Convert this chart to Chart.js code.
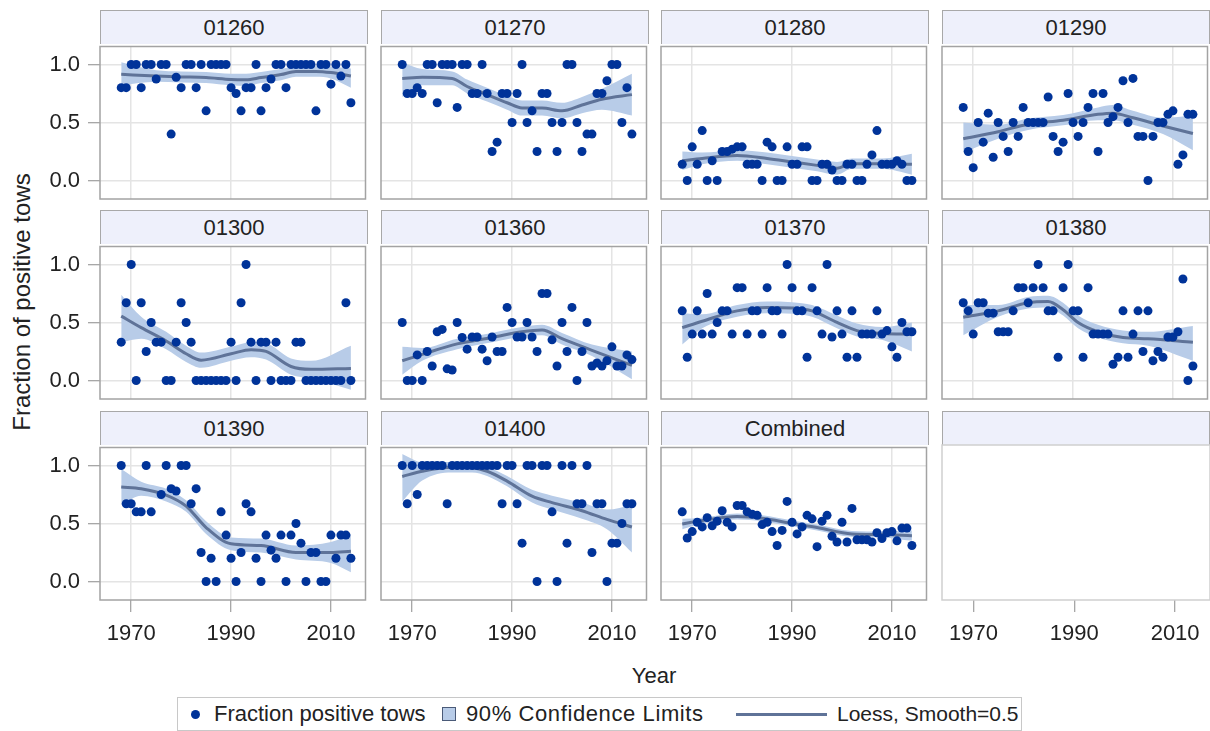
<!DOCTYPE html>
<html lang="en">
<head>
<meta charset="UTF-8">
<title>Fraction of positive tows</title>
<script src="https://cdn.jsdelivr.net/npm/chart.js"></script>
<style>
  html, body { margin: 0; padding: 0; background: #fff; }
  #page { position: relative; width: 1210px; height: 731px; overflow: hidden;
          font-family: "Liberation Sans", Arial, sans-serif; color: #222; }
  .hdr { position: absolute; box-sizing: border-box; height: 34px;
         background: #eef0fb; border: 1px solid #a8a8a8; border-bottom: none;
         text-align: center; font-size: 22px; line-height: 33px; }
  .panel { position: absolute; }
  #ytitle { position: absolute; left: -188px; top: 289px; width: 420px; height: 26px;
            line-height: 26px; text-align: center; font-size: 24px; transform: rotate(-90deg); }
  #xtitle { position: absolute; left: 554px; top: 663px; width: 200px; line-height: 26px;
            text-align: center; font-size: 22px; }
  #legend { position: absolute; left: 177px; top: 697px; width: 845px; height: 34px;
            box-sizing: border-box; border: 1px solid #c8c8c8; font-size: 22px; }
  #legend span { position: absolute; }
  #legend .lt { top: 0; line-height: 32px; white-space: nowrap; }
  #legend .dot { left: 13px; top: 12px; width: 9px; height: 9px; border-radius: 50%; background: #003399; }
  #legend .sq { left: 264px; top: 9px; width: 14px; height: 14px; box-sizing: border-box;
                background: #b8cce8; border: 1px solid #4a5a78; }
  #legend .ln { left: 558px; top: 15px; width: 91px; height: 3px; background: #5f7398; }
</style>
</head>
<body>
<div id="page">
  <div id="ytitle">Fraction of positive tows</div>
  <div id="xtitle">Year</div>
  <div id="legend">
    <span class="dot"></span><span class="lt" style="left:36px">Fraction positive tows</span>
    <span class="sq"></span><span class="lt" style="left:288px; letter-spacing:0.6px">90% Confidence Limits</span>
    <span class="ln"></span><span class="lt" style="left:659px; font-size:21px">Loess, Smooth=0.5</span>
  </div>
</div>
<script>
// ---- data ----
const panelNames = ['01260', '01270', '01280', '01290', '01300', '01360', '01370', '01380', '01390', '01400', 'Combined'];

const years = [1968, 1969, 1970, 1971, 1972, 1973, 1974, 1975, 1976, 1977,
               1978, 1979, 1980, 1981, 1982, 1983, 1984, 1985, 1986, 1987,
               1988, 1989, 1990, 1991, 1992, 1993, 1994, 1995, 1996, 1997,
               1998, 1999, 2000, 2001, 2002, 2003, 2004, 2005, 2006, 2007,
               2008, 2009, 2010, 2011, 2012, 2013, 2014];

// fraction of positive tows, one value per year above (null = no survey)
const fraction = [
  [0.8, 0.8, 1, 1, 0.8, 1, 1, 0.875, 1, 1, 0.4, 0.89, 0.8, 1, 1, 0.8, 1, 0.6, 1, 1, 1, 1, 0.8, 0.75, 0.6, 0.8, 0.8, 1, 0.6, 0.8, 0.875, 1, 1, 0.8, 1, 1, 1, 1, 1, 0.6, 1, 1, 0.83, 1, 0.9, 1, 0.67],
  [1, 0.75, 0.75, 0.8, 0.75, 1, 1, 0.67, 1, 1, 1, 0.63, 1, 1, 0.75, 0.75, 1, 0.75, 0.25, 0.33, 0.75, 0.75, 0.5, 0.75, 1, 0.5, 0.6, 0.25, 0.75, 0.75, 0.5, 0.25, 0.5, 1, 1, 0.5, 0.25, 0.4, 0.4, 0.75, 0.75, 0.86, 1, 1, 0.5, 0.8, 0.4],
  [0.14, 0, 0.29, 0.14, 0.43, 0, 0.17, 0, 0.25, 0.25, 0.27, 0.29, 0.29, 0.14, 0.14, 0.14, 0, 0.33, 0.29, 0, 0, 0.29, 0.14, 0.14, 0.29, 0.29, 0, 0, 0.14, 0.14, 0.09, 0, 0, 0.14, 0.14, 0, 0, 0.14, 0.22, 0.43, 0.14, 0.14, 0.14, 0.17, 0.14, 0, 0],
  [0.63, 0.25, 0.11, 0.5, 0.33, 0.58, 0.2, 0.5, 0.38, 0.25, 0.5, 0.38, 0.63, 0.5, 0.5, 0.5, 0.5, 0.72, 0.38, 0.25, 0.33, 0.75, 0.5, 0.38, 0.5, 0.63, 0.75, 0.25, 0.75, 0.5, 0.55, 0.63, 0.86, 0.5, 0.88, 0.38, 0.38, 0, 0.38, 0.5, 0.5, 0.57, 0.6, 0.14, 0.22, 0.57, 0.57],
  [0.33, 0.67, 1, 0, 0.67, 0.25, 0.5, 0.33, 0.33, 0, 0, 0.33, 0.67, 0.5, 0.33, 0, 0, 0, 0, 0, 0, 0, 0.33, 0, 0.67, 1, 0.33, 0, 0.33, 0.33, 0, 0.33, 0, 0, 0, 0.33, 0.33, 0, 0, 0, 0, 0, 0, 0, 0, 0.67, 0],
  [0.5, 0, 0, 0.22, 0, 0.25, 0.125, 0.42, 0.44, 0.1, 0.09, 0.5, 0.37, 0.27, 0.375, 0.375, 0.27, 0.17, 0.375, 0.25, 0.25, 0.63, 0.5, 0.375, 0.375, 0.5, 0.375, 0.25, 0.75, 0.75, 0.35, 0.125, 0.5, 0.25, 0.63, 0, 0.25, 0.5, 0.125, 0.15, 0.125, 0.17, 0.29, 0.125, 0.125, 0.22, 0.18],
  [0.6, 0.2, 0.4, 0.6, 0.4, 0.75, 0.4, 0.5, 0.6, 0.6, 0.4, 0.8, 0.8, 0.4, 0.6, 0.6, 0.4, 0.8, 0.6, 0.6, 0.4, 1, 0.8, 0.6, 0.6, 0.2, 0.8, 0.6, 0.4, 1, 0.375, 0.6, 0.4, 0.2, 0.6, 0.2, 0.4, 0.4, 0.4, 0.6, 0.4, 0.43, 0.29, 0.2, 0.5, 0.42, 0.42],
  [0.67, 0.6, 0.4, 0.67, 0.67, 0.58, 0.58, 0.42, 0.42, 0.42, 0.6, 0.8, 0.8, 0.67, 0.8, 1, 0.8, 0.6, 0.6, 0.2, 0.8, 1, 0.6, 0.6, 0.2, 0.8, 0.4, 0.4, 0.4, 0.4, 0.14, 0.2, 0.6, 0.2, 0.4, 0.6, 0.25, 0.6, 0.17, 0.25, 0.2, 0.375, 0.375, 0.42, 0.875, 0, 0.125],
  [1, 0.67, 0.67, 0.6, 0.6, 1, 0.6, null, 0.75, 1, 0.8, 0.78, 1, 1, 0.67, 0.8, 0.25, 0, 0.2, 0, 0.6, 0.4, 0.2, 0, 0.25, 0.67, 0.6, 0.2, 0, 0.4, 0.27, 0.2, 0.4, 0, 0.4, 0.5, 0.33, 0, 0.25, 0.25, 0, 0, 0.4, 0.2, 0.4, 0.4, 0.2],
  [1, 0.67, 1, 0.75, 1, 1, 1, 1, 1, 0.67, 1, 1, 1, 1, 1, 1, 1, 1, 1, 1, 0.67, 1, 1, 0.67, 0.33, 1, 1, 0, 1, 1, 0.6, 0, 1, 0.33, 1, 0.67, 0.67, 1, 0.25, 0.67, 0.67, 0, 0.33, 0.33, 0.5, 0.67, 0.67],
  [0.6, 0.375, 0.43, 0.51, 0.47, 0.55, 0.48, 0.52, 0.61, 0.51, 0.47, 0.655, 0.655, 0.6, 0.58, 0.57, 0.49, 0.51, 0.43, 0.31, 0.44, 0.69, 0.51, 0.41, 0.47, 0.57, 0.54, 0.3, 0.52, 0.57, 0.39, 0.34, 0.51, 0.34, 0.63, 0.36, 0.36, 0.36, 0.34, 0.42, 0.37, 0.42, 0.43, 0.35, 0.46, 0.46, 0.31]
];

// loess fit and 90% limits, read at the bends of each curve
const fitYears = [
  [1968, 1975, 1980, 1985, 1990, 1993, 1996, 2000, 2003, 2007, 2010, 2014],
  [1968, 1972, 1978, 1981, 1985, 1989, 1992, 1996, 2000, 2004, 2008, 2014],
  [1968, 1972, 1979, 1985, 1990, 1995, 1999, 2002, 2008, 2014],
  [1968, 1975, 1981, 1988, 1995, 1998, 2002, 2008, 2014],
  [1968, 1972, 1977, 1981, 1984, 1990, 1994, 1997, 2002, 2006, 2014],
  [1968, 1972, 1979, 1986, 1992, 1996, 2000, 2006, 2014],
  [1968, 1972, 1979, 1985, 1990, 1994, 1999, 2003, 2008, 2014],
  [1968, 1975, 1981, 1985, 1988, 1991, 1995, 2000, 2005, 2014],
  [1968, 1972, 1977, 1981, 1985, 1990, 1996, 2003, 2010, 2014],
  [1968, 1972, 1978, 1982, 1985, 1989, 1994, 1998, 2004, 2009, 2014],
  [1968, 1972, 1979, 1984, 1990, 1995, 2002, 2008, 2014]
];
const fitValues = [
  [0.915, 0.90, 0.893, 0.887, 0.87, 0.868, 0.887, 0.913, 0.94, 0.94, 0.93, 0.90],
  [0.88, 0.89, 0.88, 0.81, 0.74, 0.67, 0.625, 0.625, 0.60, 0.65, 0.70, 0.74],
  [0.17, 0.19, 0.215, 0.19, 0.16, 0.13, 0.105, 0.145, 0.145, 0.14],
  [0.36, 0.42, 0.485, 0.52, 0.57, 0.58, 0.54, 0.47, 0.405],
  [0.555, 0.455, 0.34, 0.23, 0.175, 0.23, 0.265, 0.25, 0.12, 0.096, 0.104],
  [0.17, 0.225, 0.315, 0.37, 0.42, 0.435, 0.36, 0.26, 0.13],
  [0.455, 0.51, 0.60, 0.63, 0.625, 0.60, 0.50, 0.43, 0.405, 0.40],
  [0.545, 0.60, 0.67, 0.68, 0.61, 0.50, 0.42, 0.37, 0.36, 0.33],
  [0.815, 0.80, 0.745, 0.65, 0.465, 0.325, 0.31, 0.25, 0.25, 0.26],
  [0.905, 0.95, 0.985, 0.98, 0.95, 0.865, 0.735, 0.68, 0.61, 0.535, 0.47],
  [0.495, 0.525, 0.56, 0.545, 0.50, 0.465, 0.41, 0.405, 0.395]
];
const upperCL = [
  [1.02, 0.95, 0.94, 0.935, 0.92, 0.92, 0.935, 0.96, 0.985, 0.985, 0.98, 0.965],
  [1.02, 0.96, 0.94, 0.87, 0.80, 0.73, 0.69, 0.69, 0.67, 0.72, 0.79, 0.92],
  [0.25, 0.24, 0.26, 0.24, 0.21, 0.18, 0.16, 0.19, 0.19, 0.23],
  [0.50, 0.48, 0.535, 0.565, 0.63, 0.65, 0.60, 0.54, 0.56],
  [0.74, 0.55, 0.42, 0.30, 0.24, 0.29, 0.33, 0.32, 0.19, 0.17, 0.30],
  [0.29, 0.28, 0.36, 0.41, 0.46, 0.48, 0.41, 0.31, 0.25],
  [0.58, 0.57, 0.65, 0.68, 0.675, 0.65, 0.56, 0.49, 0.46, 0.50],
  [0.65, 0.65, 0.72, 0.73, 0.67, 0.56, 0.48, 0.43, 0.42, 0.47],
  [0.97, 0.86, 0.80, 0.70, 0.52, 0.38, 0.37, 0.31, 0.34, 0.41],
  [1.10, 1.03, 1.03, 1.02, 0.99, 0.91, 0.79, 0.74, 0.68, 0.62, 0.66],
  [0.54, 0.55, 0.585, 0.57, 0.525, 0.49, 0.435, 0.43, 0.44]
];
const lowerCL = [
  [0.82, 0.85, 0.845, 0.84, 0.82, 0.815, 0.84, 0.865, 0.895, 0.895, 0.88, 0.80],
  [0.72, 0.82, 0.82, 0.75, 0.68, 0.61, 0.56, 0.56, 0.535, 0.58, 0.61, 0.56],
  [0.09, 0.14, 0.17, 0.14, 0.11, 0.08, 0.05, 0.10, 0.10, 0.05],
  [0.24, 0.36, 0.435, 0.475, 0.52, 0.52, 0.48, 0.40, 0.26],
  [0.33, 0.36, 0.27, 0.16, 0.11, 0.17, 0.20, 0.18, 0.05, 0.02, -0.08],
  [0.05, 0.17, 0.27, 0.33, 0.38, 0.39, 0.31, 0.21, 0.01],
  [0.31, 0.45, 0.55, 0.58, 0.575, 0.55, 0.45, 0.38, 0.35, 0.25],
  [0.39, 0.55, 0.62, 0.63, 0.56, 0.45, 0.37, 0.32, 0.30, 0.17],
  [0.66, 0.74, 0.69, 0.60, 0.41, 0.27, 0.25, 0.19, 0.16, 0.08],
  [0.69, 0.87, 0.94, 0.94, 0.91, 0.82, 0.68, 0.62, 0.54, 0.45, 0.25],
  [0.45, 0.50, 0.535, 0.52, 0.475, 0.44, 0.385, 0.38, 0.35]
];

const xTickValues = [1970, 1990, 2010];
const yTickValues = [0, 0.5, 1];

// ---- layout ----
const colLeft = [100, 381, 661, 942];
const rowTop = [44, 244, 445];
const plotW = 268, plotH = 155;
const axisW = 62, axisH = 50, pad = 2;
const xMin = 1963.75, xMax = 2016.92;
const yMin = -0.16, yMax = 1.155;

const dotColor = '#003399';
const bandColor = '#b8cce8';
const lineColor = '#5f7398';
const gridColor = '#e4e4e4';
const fontFamily = '"Liberation Sans", Arial, sans-serif';

Chart.defaults.font.family = fontFamily;
Chart.defaults.color = '#222';

const framePlugin = {
  id: 'frame',
  afterDraw(chart, args, opts) {
    const { ctx, chartArea: a } = chart;
    ctx.save();
    ctx.strokeStyle = opts.color;
    ctx.lineWidth = 1.5;
    ctx.strokeRect(a.left, a.top, a.width, a.height);
    ctx.restore();
  }
};

// keep every plot area the same size, whatever labels the axes carry
function fixX(s) { s.height = axisH; s.paddingLeft = 0; s.paddingRight = 0; s.paddingTop = 0; s.paddingBottom = 0; }
function fixY(s) { s.width = axisW; s.paddingLeft = 0; s.paddingRight = 0; s.paddingTop = 0; s.paddingBottom = 0; }

const page = document.getElementById('page');

for (let i = 0; i < 12; i++) {
  const col = i % 4, row = Math.floor(i / 4);
  const empty = i >= panelNames.length;
  const showY = col === 0, showX = row === 2;

  const hdr = document.createElement('div');
  hdr.className = 'hdr';
  hdr.style.left = colLeft[col] + 'px';
  hdr.style.top = (rowTop[row] - 34) + 'px';
  hdr.style.width = plotW + 'px';
  hdr.textContent = empty ? '' : panelNames[i];
  page.appendChild(hdr);

  const box = document.createElement('div');
  box.className = 'panel';
  box.style.left = (colLeft[col] - axisW) + 'px';
  box.style.top = (rowTop[row] - pad) + 'px';
  const cv = document.createElement('canvas');
  cv.width = axisW + plotW + pad;
  cv.height = pad + plotH + axisH;
  box.appendChild(cv);
  page.appendChild(box);

  const datasets = [];
  if (!empty) {
    datasets.push({
      type: 'line',
      data: fitYears[i].map((x, k) => ({ x, y: upperCL[i][k] })),
      borderColor: 'rgba(0,0,0,0)', borderWidth: 0, pointRadius: 0,
      backgroundColor: bandColor, fill: '+1',
      cubicInterpolationMode: 'monotone', order: 3
    });
    datasets.push({
      type: 'line',
      data: fitYears[i].map((x, k) => ({ x, y: lowerCL[i][k] })),
      borderColor: 'rgba(0,0,0,0)', borderWidth: 0, pointRadius: 0,
      fill: false, cubicInterpolationMode: 'monotone', order: 4
    });
    datasets.push({
      type: 'line',
      data: fitYears[i].map((x, k) => ({ x, y: fitValues[i][k] })),
      borderColor: lineColor, borderWidth: 3, pointRadius: 0,
      fill: false, cubicInterpolationMode: 'monotone', order: 2
    });
    datasets.push({
      type: 'scatter',
      data: years.map((x, k) => ({ x, y: fraction[i][k] })).filter(p => p.y !== null),
      backgroundColor: dotColor, borderColor: dotColor, borderWidth: 0,
      pointRadius: 4.5, order: 1
    });
  }

  new Chart(cv, {
    type: 'scatter',
    data: { datasets },
    plugins: [framePlugin],
    options: {
      responsive: false,
      animation: false,
      devicePixelRatio: 1,
      layout: { padding: { top: pad, right: pad, left: 0, bottom: 0 } },
      plugins: {
        legend: { display: false },
        tooltip: { enabled: false },
        frame: { color: empty ? '#cfcfcf' : '#a3a3a3' }
      },
      scales: {
        x: {
          type: 'linear', min: xMin, max: xMax,
          afterBuildTicks: s => { s.ticks = xTickValues.map(v => ({ value: v })); },
          afterFit: fixX,
          border: { display: false },
          grid: { color: empty ? 'rgba(0,0,0,0)' : gridColor, lineWidth: 1.5,
                  drawTicks: showX, tickLength: 12, tickColor: '#8a8a8a', tickWidth: 1 },
          ticks: { display: showX, padding: 9, color: '#222',
                   font: { size: 22, family: fontFamily },
                   callback: v => String(v), maxRotation: 0 }
        },
        y: {
          type: 'linear', min: yMin, max: yMax,
          afterBuildTicks: s => { s.ticks = yTickValues.map(v => ({ value: v })); },
          afterFit: fixY,
          border: { display: false },
          grid: { color: empty ? 'rgba(0,0,0,0)' : gridColor, lineWidth: 1.5,
                  drawTicks: showY, tickLength: 12, tickColor: '#8a8a8a', tickWidth: 1 },
          ticks: { display: showY, padding: 8, color: '#222',
                   font: { size: 22, family: fontFamily },
                   callback: v => v.toFixed(1) }
        }
      }
    }
  });
}
</script>
</body>
</html>
